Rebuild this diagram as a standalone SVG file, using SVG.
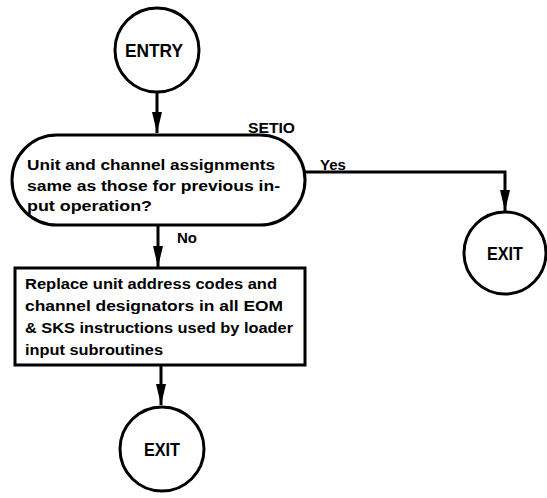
<svg xmlns="http://www.w3.org/2000/svg" width="547" height="498" viewBox="0 0 547 498">
  <style>
    .shape { fill: #fff; stroke: #000; stroke-width: 3; }
    .wire { fill: none; stroke: #000; stroke-width: 3; }
    .t { font-family: "Liberation Sans", Arial, sans-serif; font-weight: bold; font-size: 14px; fill: #000; }
    .lbl { font-family: "Liberation Sans", Arial, sans-serif; font-weight: bold; font-size: 15px; fill: #000; }
    .term { font-family: "Liberation Sans", Arial, sans-serif; font-weight: bold; font-size: 18px; fill: #000; }
  </style>
  <rect width="547" height="498" fill="#fff"/>

  <g id="connectors">
    <line class="wire" x1="157" y1="92" x2="157" y2="133"/>
    <path d="M157,112 l-5,0 l5,21 l5,-21 z" fill="#000"/>
    <polyline class="wire" points="304,172 505,172 505,211"/>
    <path d="M505,190 l-5,0 l5,21 l5,-21 z" fill="#000"/>
    <line class="wire" x1="158" y1="225" x2="158" y2="267"/>
    <path d="M158,246 l-5,0 l5,21 l5,-21 z" fill="#000"/>
    <line class="wire" x1="161" y1="365" x2="161" y2="405"/>
    <path d="M161,384 l-5,0 l5,21 l5,-21 z" fill="#000"/>
    <text class="lbl" x="320" y="170">Yes</text>
    <text class="lbl" x="177" y="243">No</text>
  </g>

  <g id="entry">
    <circle class="shape" cx="157" cy="50" r="42"/>
    <text class="term" x="154" y="57" text-anchor="middle" textLength="58" lengthAdjust="spacingAndGlyphs">ENTRY</text>
  </g>

  <g id="setio">
    <rect class="shape" x="12" y="135" width="293" height="90" rx="45" ry="45"/>
    <text class="lbl" x="248" y="133" textLength="47" lengthAdjust="spacingAndGlyphs">SETIO</text>
    <text class="t" x="27" y="170" textLength="248" lengthAdjust="spacingAndGlyphs">Unit and channel assignments</text>
    <text class="t" x="27" y="191" textLength="253" lengthAdjust="spacingAndGlyphs">same as those for previous in-</text>
    <text class="t" x="27" y="211" textLength="125" lengthAdjust="spacingAndGlyphs">put operation?</text>
  </g>

  <g id="exit-yes">
    <circle class="shape" cx="505" cy="253" r="41"/>
    <text class="term" x="505" y="260" text-anchor="middle" textLength="36" lengthAdjust="spacingAndGlyphs">EXIT</text>
  </g>

  <g id="replace">
    <rect class="shape" x="15" y="268" width="290" height="97"/>
    <text class="t" x="25" y="289" textLength="252" lengthAdjust="spacingAndGlyphs">Replace unit address codes and</text>
    <text class="t" x="25" y="311" textLength="258" lengthAdjust="spacingAndGlyphs">channel designators in all EOM</text>
    <text class="t" x="25" y="333" textLength="268" lengthAdjust="spacingAndGlyphs">&amp; SKS instructions used by loader</text>
    <text class="t" x="25" y="355" textLength="138" lengthAdjust="spacingAndGlyphs">input subroutines</text>
  </g>

  <g id="exit-no">
    <circle class="shape" cx="162" cy="449" r="42"/>
    <text class="term" x="162" y="456" text-anchor="middle" textLength="36" lengthAdjust="spacingAndGlyphs">EXIT</text>
  </g>
</svg>
